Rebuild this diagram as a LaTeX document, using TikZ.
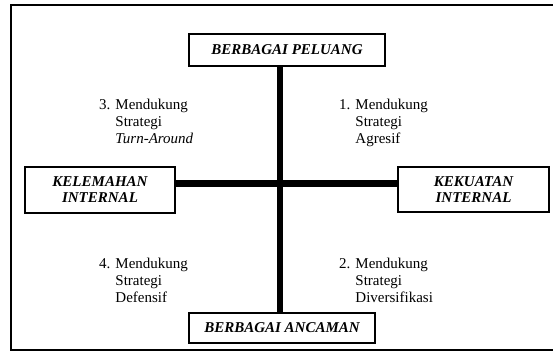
\documentclass[tikz,border=0pt]{standalone}
\usepackage{fontspec}
\setmainfont{Liberation Serif}
\begin{document}
\begin{tikzpicture}[x=1pt,y=-1pt,
  box/.style={draw=black,line width=2pt,inner sep=0pt,align=center,font=\fontsize{15}{16}\selectfont\bfseries\itshape},
  bar/.style={line width=#1},
  quad/.style={anchor=base west,inner sep=0pt,font=\fontsize{15}{17}\selectfont}]
\useasboundingbox (0,0) rectangle (553,354);
\draw[line width=2pt] (570,5) -- (10.5,5) -- (10.5,350) -- (570,350);
\node[box,minimum width=196pt,minimum height=32pt] (peluang) at (287,50) {BERBAGAI PELUANG};
\node[box,minimum width=186pt,minimum height=30pt] (ancaman) at (282,328) {BERBAGAI ANCAMAN};
\node[box,minimum width=150pt,minimum height=46pt] (kelemahan) at (100,190) {KELEMAHAN\\INTERNAL};
\node[box,minimum width=151pt,minimum height=45pt] (kekuatan) at (473.5,189.5) {KEKUATAN\\INTERNAL};
\coordinate (c) at (280,183.5);
\draw[bar=6pt] (c |- peluang.south) -- (c |- ancaman.north);
\draw[bar=7pt] (kelemahan.east |- c) -- (kekuatan.west |- c);
\node[quad] (q3) at (99,109) {\begin{tabular}[t]{@{}l@{ }l@{}}3.&Mendukung\\&Strategi\\&\textit{Turn-Around}\end{tabular}};
\node[quad] (q1) at (339,109) {\begin{tabular}[t]{@{}l@{ }l@{}}1.&Mendukung\\&Strategi\\&Agresif\end{tabular}};
\node[quad] (q4) at (99,268) {\begin{tabular}[t]{@{}l@{ }l@{}}4.&Mendukung\\&Strategi\\&Defensif\end{tabular}};
\node[quad] (q2) at (339,268) {\begin{tabular}[t]{@{}l@{ }l@{}}2.&Mendukung\\&Strategi\\&Diversifikasi\end{tabular}};
\end{tikzpicture}
\end{document}
